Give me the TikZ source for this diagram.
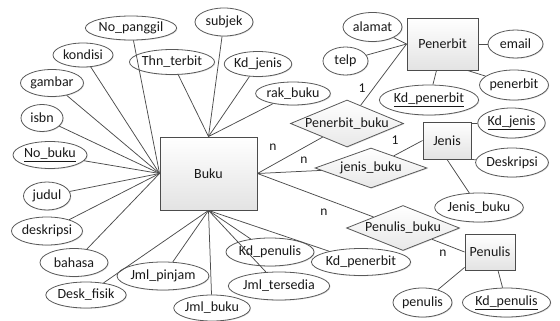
\documentclass[tikz,border=0pt]{standalone}
\usepackage{fontspec}
\setmainfont{Carlito}
\usetikzlibrary{shapes.geometric,shadows}
\begin{document}
\begin{tikzpicture}[x=1pt,y=-1pt,
  font=\fontsize{14}{16}\selectfont,
  every node/.style={inner sep=0pt,text=black!90},
  attr/.style 2 args={ellipse,draw=black!65,line width=0.8pt,fill=white,
    minimum width=#1pt,minimum height=#2pt,
    drop shadow={shadow xshift=0.8pt,shadow yshift=-0.8pt,opacity=0.25}},
  ent/.style 2 args={rectangle,draw=black!70,line width=0.9pt,
    top color=white,bottom color=gray!22,
    minimum width=#1pt,minimum height=#2pt,
    drop shadow={shadow xshift=1pt,shadow yshift=-1pt,opacity=0.3}},
  rel/.style 2 args={diamond,aspect=2.4,draw=black!65,line width=0.8pt,
    top color=white,bottom color=gray!18,
    minimum width=#1pt,minimum height=#2pt,
    drop shadow={shadow xshift=0.8pt,shadow yshift=-0.8pt,opacity=0.25}},
  conn/.style={draw=black!70,line width=0.75pt},
  card/.style={font=\fontsize{13.5}{15}\selectfont}]
\useasboundingbox (0,0) rectangle (560,321);

% entities
\node[ent={97}{73}] (buku) at (208.5,173.5) {Buku};
\node[ent={71}{52}] (penerbit) at (442.5,44) {Penerbit};
\node[ent={48}{37}] (jenis) at (447,140.5) {Jenis};
\node[ent={50}{36}] (penulis) at (490,252) {Penulis};

% relationships
\node[rel={113}{47}] (pb) at (347,123.5) {Penerbit\_buku};
\node[rel={112}{40}] (jb) at (371,168) {jenis\_buku};
\node[rel={113}{45}] (pnb) at (403,228) {Penulis\_buku};

% Buku attributes
\node[attr={87}{24}] (nopanggil) at (131,28) {No\_panggil};
\node[attr={58}{28}] (subjek) at (224,22) {subjek};
\node[attr={60}{24}] (kondisi) at (83,55) {kondisi};
\node[attr={69}{25}] (thn) at (172,62) {Thn\_terbit};
\node[attr={63}{25}] (kdjenisA) at (258,64) {Kd\_jenis};
\node[attr={63}{27}] (gambar) at (52,83) {gambar};
\node[attr={73}{23}] (rak) at (293,93.5) {rak\_buku};
\node[attr={42}{27}] (isbn) at (42,118) {isbn};
\node[attr={74}{27}] (nobuku) at (50,155) {\underline{No\_buku}};
\node[attr={47}{28}] (judul) at (47,196) {judul};
\node[attr={69}{28}] (deskripsi) at (47,231) {deskripsi};
\node[attr={68}{28}] (bahasa) at (74,262.5) {bahasa};
\node[attr={78}{26}] (deskfisik) at (86,295) {Desk\_fisik};
\node[attr={87}{28}] (jmlpinjam) at (163,276) {Jml\_pinjam};
\node[attr={75}{26}] (jmlbuku) at (212,308) {Jml\_buku};
\node[attr={86}{28}] (kdpenulisA) at (270,252) {Kd\_penulis};
\node[attr={92}{28}] (jmltersedia) at (279,286) {Jml\_tersedia};
\node[attr={92}{27}] (kdpenerbitA) at (361,262) {Kd\_penerbit};

% Penerbit attributes
\node[attr={59}{29}] (alamat) at (372.5,27) {alamat};
\node[attr={45}{28}] (telp) at (345.5,61) {telp};
\node[attr={55}{28}] (email) at (515.5,44) {email};
\node[attr={68}{30}] (penerbitattr) at (514,85) {penerbit};
\node[attr={82}{30}] (kdpenerbitB) at (429,100) {\underline{Kd\_penerbit}};

% Jenis attributes
\node[attr={67}{30}] (kdjenisB) at (511.5,123) {\underline{Kd\_jenis}};
\node[attr={70}{29}] (deskripsiB) at (512,162.5) {Deskripsi};
\node[attr={82}{29}] (jenisbuku) at (479,207.5) {Jenis\_buku};

% Penulis attributes
\node[attr={59}{29}] (penulisattr) at (422.5,302.5) {penulis};
\node[attr={83}{29}] (kdpenulisB) at (506.5,302.5) {\underline{Kd\_penulis}};

% connectors: Buku attributes
\foreach \a in {nopanggil,kondisi,gambar,isbn,nobuku,judul,deskripsi,bahasa}
  \draw[conn] (\a) -- (buku.west);
\foreach \a in {subjek,thn,kdjenisA,rak}
  \draw[conn] (\a) -- (buku.north);
\foreach \a in {deskfisik,jmlpinjam,jmlbuku,kdpenulisA,jmltersedia,kdpenerbitA}
  \draw[conn] (\a) -- (buku.south);

% relationships
\draw[conn] (buku.east) -- (pb);
\draw[conn] (buku.east) -- (jb);
\draw[conn] (buku.east) -- (pnb);
\draw[conn] (pb) -- (penerbit.west);
\draw[conn] (jb) -- (jenis.west);
\draw[conn] (pnb) -- (penulis.west);

% Penerbit attributes
\draw[conn] (alamat) -- (penerbit.west);
\draw[conn] (telp) -- (penerbit.west);
\draw[conn] (penerbit.east) -- (email);
\coordinate (pse) at ([xshift=-11pt]penerbit.south east);
\draw[conn] (pse) -- (penerbitattr);
\coordinate (ps) at ([xshift=-6pt]penerbit.south);
\draw[conn] (ps) -- (kdpenerbitB);

% Jenis attributes
\coordinate (jne) at ([yshift=-2pt]jenis.north east);
\draw[conn] (jne) -- (kdjenisB);
\coordinate (jse) at (jenis.south east);
\draw[conn] (jse) -- (deskripsiB);
\draw[conn] (jenis.south) -- (jenisbuku);

% Penulis attributes
\coordinate (pw) at ([yshift=3pt]penulis.south west);
\draw[conn] (pw) -- (penulisattr);
\coordinate (pls) at ([xshift=8pt]penulis.south);
\draw[conn] (pls) -- (kdpenulisB);

% cardinalities
\node[card] (c1) at (362,88) {1};
\node[card] (c2) at (395,140) {1};
\node[card] (c3) at (273,147) {n};
\node[card] (c4) at (304,160) {n};
\node[card] (c5) at (324,212) {n};
\node[card] (c6) at (443,253) {n};
\end{tikzpicture}
\end{document}
